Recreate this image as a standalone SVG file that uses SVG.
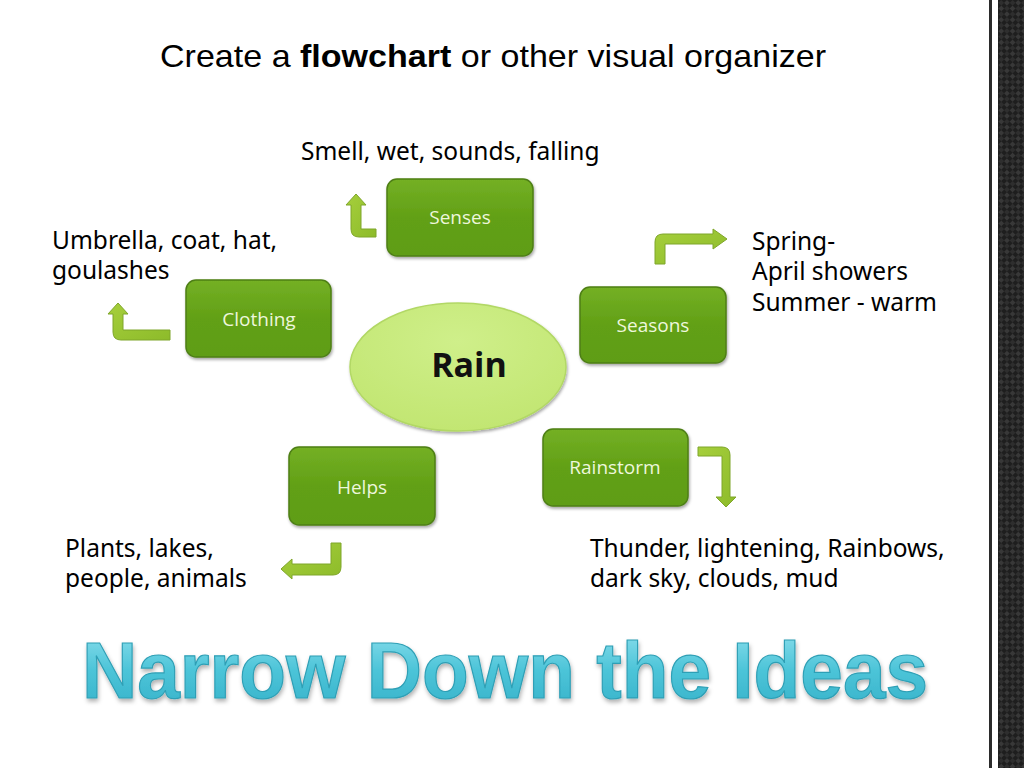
<svg xmlns="http://www.w3.org/2000/svg" width="1024" height="768" viewBox="0 0 1024 768">
<defs>
<style>
.lbl{font-family:"Noto Sans","DejaVu Sans",sans-serif;font-size:24.5px;fill:#000}
.btxt{font-family:"Open Sans","Noto Sans",sans-serif;font-size:19px;fill:#eef7dc;text-anchor:middle}
.box{fill:url(#boxg);stroke:#4e7f14;stroke-width:1.5;filter:url(#sh)}
.arr{fill:url(#arrg);stroke:#7fa62a;stroke-width:1}
</style>
<linearGradient id="boxg" x1="0" y1="0" x2="0" y2="1">
<stop offset="0" stop-color="#74b025"/>
<stop offset="0.5" stop-color="#62a016"/>
<stop offset="1" stop-color="#5f9d18"/>
</linearGradient>
<linearGradient id="arrg" x1="0" y1="0" x2="1" y2="1">
<stop offset="0" stop-color="#a6cf3c"/>
<stop offset="1" stop-color="#8dbb2a"/>
</linearGradient>
<radialGradient id="ellg" cx="0.5" cy="0.3" r="0.7">
<stop offset="0" stop-color="#cfef8a"/>
<stop offset="1" stop-color="#c2e672"/>
</radialGradient>
<linearGradient id="tg" x1="0" y1="0" x2="0" y2="1">
<stop offset="0" stop-color="#8fe0ee"/>
<stop offset="0.5" stop-color="#4cc4d8"/>
<stop offset="1" stop-color="#34b0c8"/>
</linearGradient>
<filter id="sh" x="-10%" y="-10%" width="125%" height="130%">
<feDropShadow dx="1" dy="2" stdDeviation="1.5" flood-color="#000" flood-opacity="0.35"/>
</filter>
<filter id="tsh" x="-5%" y="-10%" width="110%" height="130%">
<feDropShadow dx="1" dy="3" stdDeviation="2" flood-color="#000" flood-opacity="0.3"/>
</filter>
<pattern id="carbon" width="8" height="8" patternUnits="userSpaceOnUse" patternTransform="rotate(45)">
<rect width="8" height="8" fill="#1e1e1e"/>
<rect x="0" y="0" width="4" height="4" fill="#383838"/>
<rect x="4" y="4" width="4" height="4" fill="#2e2e2e"/>
</pattern>
</defs>
<rect width="1024" height="768" fill="#fff"/>
<rect x="989" y="0" width="3" height="768" fill="#2b2b2b"/>
<rect x="998" y="0" width="26" height="768" fill="url(#carbon)"/>

<text x="160" y="67" font-family="Liberation Sans, Arial, sans-serif" font-size="32" fill="#000" textLength="666" lengthAdjust="spacingAndGlyphs">Create a <tspan font-weight="bold">flowchart</tspan> or other visual organizer</text>

<g id="connectors">
<path class="arr" d="M376,229 L361,229 L361,205 L366,205 L356,194 L346,205 L351,205 L351,229 Q351,237 359,237 L376,237 Z"/>
<path class="arr" d="M170,330 L123,330 L123,314 L128,314 L118,303 L108,314 L113,314 L113,332 Q113,340 121,340 L170,340 Z"/>
<path class="arr" d="M655,264 L665,264 L665,244 L713,244 L713,249 L727,239 L713,229 L713,234 L663,234 Q655,234 655,242 Z"/>
<path class="arr" d="M331,543 L341,543 L341,567 Q341,575 333,575 L292,575 L292,579 L281,569 L292,559 L292,564 L331,564 Z"/>
<path class="arr" d="M698,447 L722,447 Q730,447 730,455 L730,497 L736,497 L726,507 L716,497 L722,497 L722,456 L698,456 Z"/>
</g>

<g id="senses">
<rect class="box" x="387" y="179" width="146" height="77" rx="10"/>
<text class="btxt" x="460" y="224">Senses</text>
</g>
<g id="clothing">
<rect class="box" x="186" y="280" width="145" height="77" rx="10"/>
<text class="btxt" x="259" y="326">Clothing</text>
</g>
<g id="seasons">
<rect class="box" x="580" y="287" width="146" height="76" rx="10"/>
<text class="btxt" x="653" y="332">Seasons</text>
</g>
<g id="helps">
<rect class="box" x="289" y="447" width="146" height="78" rx="10"/>
<text class="btxt" x="362" y="494">Helps</text>
</g>
<g id="rainstorm">
<rect class="box" x="543" y="429" width="145" height="77" rx="10"/>
<text class="btxt" x="615" y="474">Rainstorm</text>
</g>
<g id="rain">
<ellipse cx="458" cy="367" rx="108" ry="64" fill="url(#ellg)" stroke="#b2d865" stroke-width="1.5" filter="url(#sh)"/>
<text x="469" y="377" text-anchor="middle" font-family="Open Sans, Noto Sans, sans-serif" font-weight="bold" font-size="34" fill="#111">Rain</text>
</g>

<g id="labels">
<text class="lbl" x="301" y="160">Smell, wet, sounds, falling</text>
<text class="lbl" x="52" y="249">Umbrella, coat, hat,</text>
<text class="lbl" x="52" y="279">goulashes</text>
<text class="lbl" x="752" y="250">Spring-</text>
<text class="lbl" x="752" y="280">April showers</text>
<text class="lbl" x="752" y="311">Summer - warm</text>
<text class="lbl" x="65" y="557">Plants, lakes,</text>
<text class="lbl" x="65" y="587">people, animals</text>
<text class="lbl" x="590" y="557">Thunder, lightening, Rainbows,</text>
<text class="lbl" x="590" y="587">dark sky, clouds, mud</text>
</g>

<text x="505" y="698" text-anchor="middle" font-family="Liberation Sans, Arial, sans-serif" font-weight="bold" font-size="80" fill="url(#tg)" stroke="#2f9fb5" stroke-width="1.2" filter="url(#tsh)" textLength="846" lengthAdjust="spacingAndGlyphs">Narrow Down the Ideas</text>
</svg>
